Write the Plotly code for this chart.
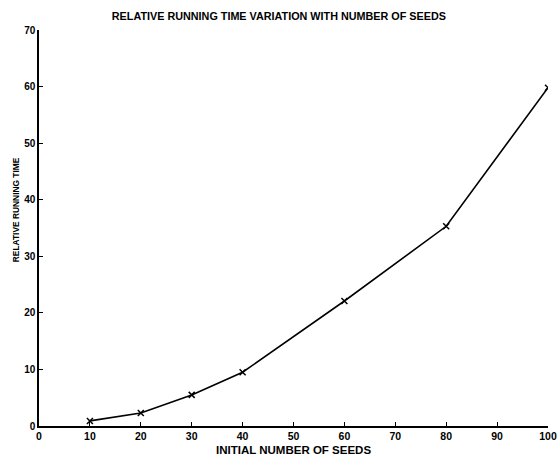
import plotly.graph_objects as go

seeds = [10, 20, 30, 40, 60, 80, 100]
rel_time = [0.9, 2.3, 5.5, 9.5, 22.1, 35.3, 59.8]
x_ticks = [0, 10, 20, 30, 40, 50, 60, 70, 80, 90, 100]
y_ticks = [0, 10, 20, 30, 40, 50, 60, 70]

FONT = "Liberation Sans"

fig = go.Figure()
fig.add_trace(go.Scatter(
    x=seeds, y=rel_time, mode="lines+markers",
    line=dict(color="black", width=1.6),
    marker=dict(symbol="x-thin", size=6, color="black",
                line=dict(color="black", width=1.5)),
    showlegend=False,
))

fig.update_layout(
    template="none",
    width=560, height=460,
    margin=dict(l=39, r=12, t=30, b=34),
    paper_bgcolor="white", plot_bgcolor="white",
    font=dict(family=FONT, color="black", size=10),
    title=dict(text="<b>RELATIVE RUNNING TIME VARIATION WITH NUMBER OF SEEDS</b>",
               x=0.498, xanchor="center", y=0.965, yanchor="middle",
               font=dict(size=10.8, family=FONT, color="black")),
    annotations=[
        dict(text="<b>INITIAL NUMBER OF SEEDS</b>", xref="paper", yref="paper",
             x=0.5, y=0, xanchor="center", yanchor="middle", yshift=-24,
             showarrow=False, font=dict(size=11.5, family=FONT, color="black")),
        dict(text="<b>RELATIVE RUNNING TIME</b>", xref="paper", yref="paper",
             x=0, y=0.545, xanchor="center", yanchor="middle", xshift=-23,
             textangle=-90, showarrow=False,
             font=dict(size=8.4, family=FONT, color="black")),
    ],
)
fig.update_xaxes(
    range=[0, 100], tickvals=x_ticks,
    ticktext=[f"<b>{v}</b>" for v in x_ticks],
    showgrid=False, zeroline=False, automargin=False,
    showline=True, linecolor="black", linewidth=1.5,
    ticks="inside", ticklen=4, tickcolor="black", tickwidth=1,
    tickfont=dict(size=10.5, family=FONT, color="black"), ticklabeloverflow="allow",
)
fig.update_yaxes(
    range=[0, 70], tickvals=y_ticks,
    ticktext=[f"<b>{v}</b>" for v in y_ticks],
    showgrid=False, zeroline=False, automargin=False,
    showline=True, linecolor="black", linewidth=1.5,
    ticks="inside", ticklen=4, tickcolor="black", tickwidth=1,
    tickfont=dict(size=10, family=FONT, color="black"),
)

fig.write_html("out.html", config={"displayModeBar": False},
               post_script="document.body.style.margin='0';")
